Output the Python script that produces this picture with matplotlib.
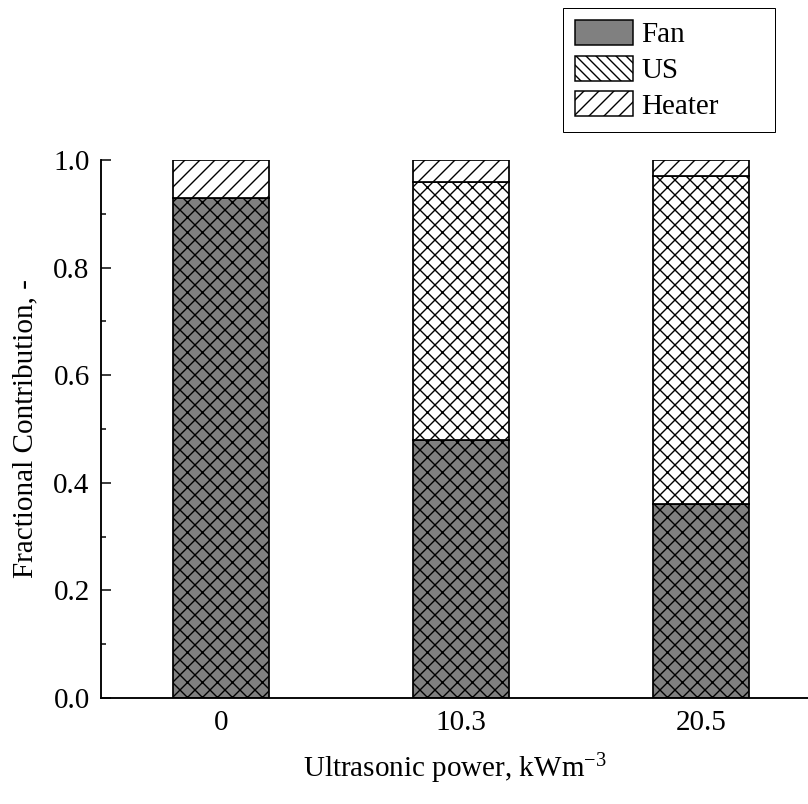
import matplotlib
matplotlib.use('Agg')
import matplotlib.pyplot as plt
import matplotlib.patches as mpatches
from matplotlib.ticker import MultipleLocator
import numpy as np

# Data
categories = ['0', '10.3', '20.5']
fan = [0.93, 0.48, 0.36]
us = [0.00, 0.48, 0.61]
heater = [0.07, 0.04, 0.03]

plt.rcParams['font.family'] = ['Liberation Serif', 'DejaVu Serif']
plt.rcParams['mathtext.fontset'] = 'custom'
plt.rcParams['mathtext.rm'] = 'Liberation Serif'
plt.rcParams['mathtext.it'] = 'Liberation Serif:italic'
plt.rcParams['hatch.linewidth'] = 1.1

DPI = 90
fs = 23.3  # ~29 px text

fig = plt.figure(figsize=(808 / DPI, 804 / DPI), dpi=DPI)
ax = fig.add_axes([101 / 808, 106 / 804, 707 / 808, 538 / 804])

x = np.arange(len(categories))
w = 0.4
ax.bar(x, fan, w, color='#808080', edgecolor='black', hatch='xx', linewidth=1.4, zorder=2)
ax.bar(x, us, w, bottom=fan, color='white', edgecolor='black', hatch='xx', linewidth=1.4, zorder=2)
bottom2 = np.array(fan) + np.array(us)
ax.bar(x, heater, w, bottom=bottom2, color='white', edgecolor='black', hatch='//', linewidth=1.4, zorder=2)

ax.set_xlim(-0.5, 2.446)
ax.set_ylim(0, 1.0)
ax.set_xticks(x)
ax.set_xticklabels(categories)
ax.yaxis.set_major_locator(MultipleLocator(0.2))
ax.yaxis.set_minor_locator(MultipleLocator(0.1))
ax.yaxis.set_major_formatter(matplotlib.ticker.FormatStrFormatter('%.1f'))

for s in ['top', 'right']:
    ax.spines[s].set_visible(False)
for s in ['left', 'bottom']:
    ax.spines[s].set_linewidth(1.5)

ax.tick_params(axis='y', which='major', direction='in', length=8, width=1.2, labelsize=fs, pad=9)
ax.tick_params(axis='y', which='minor', direction='in', length=4, width=1.2)
ax.tick_params(axis='x', which='major', direction='in', length=5, width=1.2, labelsize=fs, pad=10)

ax.set_ylabel('Fractional Contribution, -', fontsize=fs, labelpad=12)
ax.set_xlabel(r'Ultrasonic power, kWm$^{-3}$', fontsize=fs, labelpad=12)

handles = [
    mpatches.Patch(facecolor='#808080', edgecolor='black', linewidth=1.2, label='Fan'),
    mpatches.Patch(facecolor='white', edgecolor='black', hatch='\\\\\\', linewidth=1.2, label='US'),
    mpatches.Patch(facecolor='white', edgecolor='black', hatch='//', linewidth=1.2, label='Heater'),
]
leg = fig.legend(handles=handles, loc='upper left',
                 bbox_to_anchor=(563 / 808, 1 - 8 / 804, 212 / 808, 0.0), mode='expand',
                 fontsize=fs, frameon=True, fancybox=False, framealpha=1, edgecolor='black',
                 handlelength=2.0, handleheight=0.95, labelspacing=0.25, handletextpad=0.3,
                 borderpad=0.4, borderaxespad=0)
leg.get_frame().set_linewidth(0.8)

plt.savefig('out.png', dpi=DPI, facecolor='white')
